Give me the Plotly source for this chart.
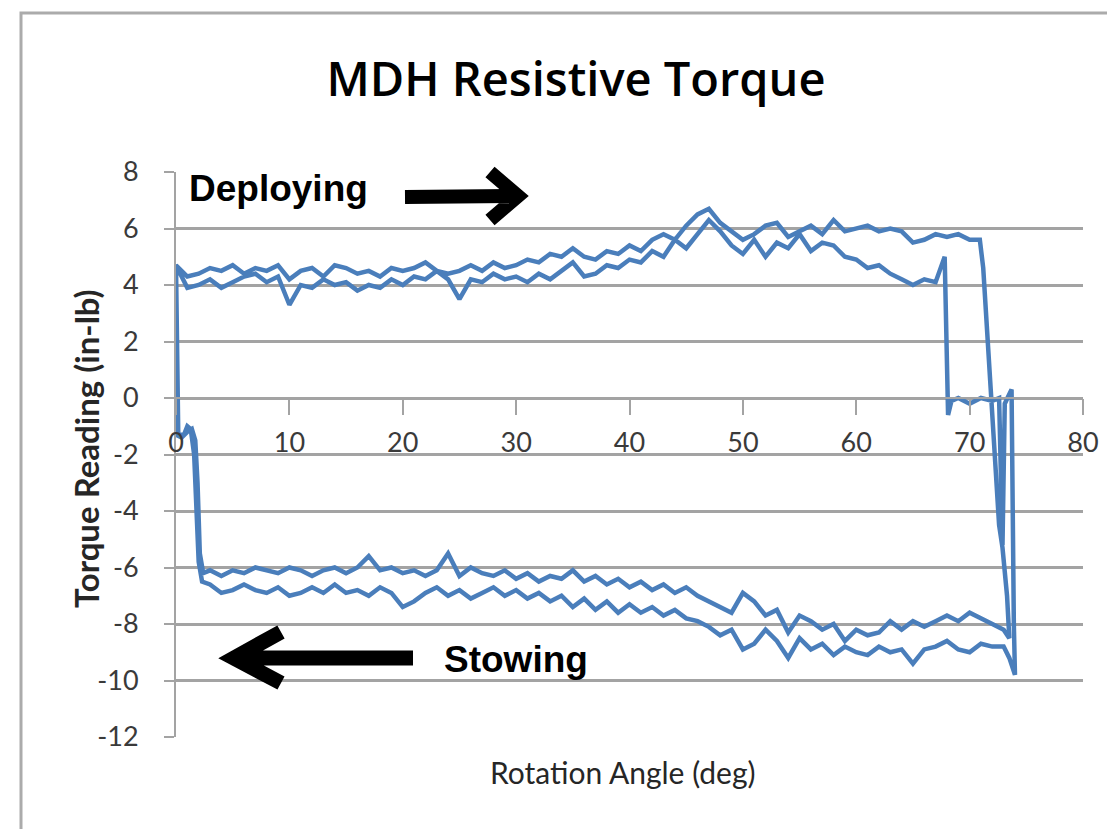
import plotly.graph_objects as go

# ---------------- data ----------------
# Cycle 1: deploying (ends at ~68 deg, then coasts at ~0 torque)
deploy1_angle = [0, 0, 1, 2, 3, 4, 5, 6, 7, 8, 9, 10, 11, 12, 13, 14, 15, 16, 17, 18, 19,
                 20, 21, 22, 23, 24, 25, 26, 27, 28, 29, 30, 31, 32, 33, 34, 35, 36, 37, 38, 39,
                 40, 41, 42, 43, 44, 45, 46, 47, 48, 49, 50, 51, 52, 53, 54, 55, 56, 57, 58, 59,
                 60, 61, 62, 63, 64, 65, 66, 67, 67.8, 68.1, 68.4, 69, 70, 71, 72, 72.6]
deploy1_torque = [0.0, 4.7, 3.9, 4.0, 4.2, 3.9, 4.1, 4.3, 4.4, 4.1, 4.3, 3.3, 4.0, 3.9, 4.2, 4.0, 4.1, 3.8, 4.0, 3.9, 4.2,
                  4.0, 4.3, 4.2, 4.5, 4.2, 3.5, 4.2, 4.1, 4.4, 4.2, 4.3, 4.1, 4.4, 4.2, 4.5, 4.8, 4.3, 4.4, 4.7, 4.6,
                  4.9, 4.8, 5.2, 5.0, 5.6, 5.3, 5.8, 6.3, 5.9, 5.4, 5.1, 5.6, 5.0, 5.5, 5.3, 5.8, 5.2, 5.5, 5.4, 5.0,
                  4.9, 4.6, 4.7, 4.4, 4.2, 4.0, 4.2, 4.1, 5.0, -0.6, -0.1, 0.0, -0.2, 0.0, -0.1, 0.0]

# Cycle 1: reversal at the end of travel
reverse1_angle = [72.9, 73.1, 73.7, 73.8, 73.9, 74.0]
reverse1_torque = [-5.2, -0.2, 0.3, -5.7, -8.0, -9.8]

# Cycle 1: stowing (lower curve on the right)
stow1_angle = [73.5, 73, 72, 71, 70, 69, 68, 67, 66, 65, 64, 63, 62, 61, 60, 59, 58, 57, 56, 55,
               54, 53, 52, 51, 50, 49, 48, 47, 46, 45, 44, 43, 42, 41, 40, 39, 38, 37, 36, 35,
               34, 33, 32, 31, 30, 29, 28, 27, 26, 25, 24, 23, 22, 21, 20, 19, 18, 17, 16, 15,
               14, 13, 12, 11, 10, 9, 8, 7, 6, 5, 4, 3, 2.3, 2.0, 1.8, 1.6, 1.3, 1.0, 0.7, 0.2]
stow1_torque = [-9.2, -8.8, -8.8, -8.7, -9.0, -8.9, -8.6, -8.8, -8.9, -9.4, -8.9, -9.0, -8.8, -9.1, -9.0, -8.8, -9.1, -8.7, -8.9, -8.5,
                -9.2, -8.6, -8.2, -8.7, -8.9, -8.2, -8.4, -8.1, -7.9, -7.8, -7.5, -7.7, -7.4, -7.6, -7.3, -7.6, -7.2, -7.5, -7.1, -7.4,
                -7.0, -7.2, -6.9, -7.1, -6.8, -7.0, -6.7, -6.9, -7.1, -6.8, -7.0, -6.7, -6.9, -7.2, -7.4, -6.9, -6.7, -7.0, -6.8, -6.9,
                -6.6, -6.9, -6.7, -6.9, -7.0, -6.7, -6.9, -6.8, -6.6, -6.8, -6.9, -6.6, -6.5, -5.8, -3.5, -2.0, -1.1, -1.0, -1.3, -1.3]

# Cycle 2: deploying (upper curve, runs to ~72 deg)
deploy2_angle = [0, 1, 2, 3, 4, 5, 6, 7, 8, 9, 10, 11, 12, 13, 14, 15, 16, 17, 18, 19,
                 20, 21, 22, 23, 24, 25, 26, 27, 28, 29, 30, 31, 32, 33, 34, 35, 36, 37, 38, 39,
                 40, 41, 42, 43, 44, 45, 46, 47, 48, 49, 50, 51, 52, 53, 54, 55, 56, 57, 58, 59,
                 60, 61, 62, 63, 64, 65, 66, 67, 68, 69, 70, 70.9, 71.2, 71.8, 72.2, 72.6, 72.9, 73.3, 73.5]
deploy2_torque = [4.7, 4.3, 4.4, 4.6, 4.5, 4.7, 4.4, 4.6, 4.5, 4.7, 4.2, 4.5, 4.6, 4.3, 4.7, 4.6, 4.4, 4.5, 4.3, 4.6,
                  4.5, 4.6, 4.8, 4.5, 4.4, 4.5, 4.7, 4.5, 4.8, 4.6, 4.7, 4.9, 4.8, 5.1, 5.0, 5.3, 5.0, 4.9, 5.2, 5.1,
                  5.4, 5.2, 5.6, 5.8, 5.6, 6.1, 6.5, 6.7, 6.2, 5.9, 5.6, 5.8, 6.1, 6.2, 5.7, 5.9, 6.1, 5.8, 6.3, 5.9,
                  6.0, 6.1, 5.9, 6.0, 5.9, 5.5, 5.6, 5.8, 5.7, 5.8, 5.6, 5.6, 4.6, 0.6, -1.5, -4.5, -5.3, -7.0, -8.5]

# Cycle 2: stowing (upper curve on the right)
stow2_angle = [73, 72, 71, 70, 69, 68, 67, 66, 65, 64, 63, 62, 61, 60, 59, 58, 57, 56, 55,
               54, 53, 52, 51, 50, 49, 48, 47, 46, 45, 44, 43, 42, 41, 40, 39, 38, 37, 36, 35,
               34, 33, 32, 31, 30, 29, 28, 27, 26, 25, 24, 23, 22, 21, 20, 19, 18, 17, 16, 15,
               14, 13, 12, 11, 10, 9, 8, 7, 6, 5, 4, 3, 2.4, 2.1, 1.9, 1.7, 1.4, 1.0, 0.5, 0.0]
stow2_torque = [-8.2, -8.0, -7.8, -7.6, -7.9, -7.7, -7.9, -8.1, -7.9, -8.2, -7.9, -8.3, -8.4, -8.2, -8.6, -8.0, -8.2, -7.9, -7.7,
                -8.3, -7.5, -7.7, -7.2, -6.9, -7.6, -7.4, -7.2, -7.0, -6.7, -6.9, -6.6, -6.8, -6.5, -6.7, -6.4, -6.6, -6.3, -6.5, -6.1,
                -6.4, -6.3, -6.5, -6.2, -6.4, -6.1, -6.3, -6.2, -6.0, -6.3, -5.5, -6.1, -6.3, -6.1, -6.2, -6.0, -6.1, -5.6, -6.0, -6.2,
                -6.0, -6.1, -6.3, -6.1, -6.0, -6.2, -6.1, -6.0, -6.2, -6.1, -6.3, -6.1, -6.2, -5.5, -3.0, -1.5, -1.1, -1.2, -1.4, -1.3]

x_ticks = [0, 10, 20, 30, 40, 50, 60, 70, 80]
y_ticks = [-12, -10, -8, -6, -4, -2, 0, 2, 4, 6, 8]

angle = deploy1_angle + reverse1_angle + stow1_angle + deploy2_angle + stow2_angle
torque = deploy1_torque + reverse1_torque + stow1_torque + deploy2_torque + stow2_torque

# ---------------- layout geometry ----------------
W, H = 1115, 829
L, R, T, B = 168, 40, 164, 100
PW, PH = W - L - R, H - T - B


def px(p):  # pixel x -> paper x
    return (p - L) / PW


def py(p):  # pixel y -> paper y
    return (H - B - p) / PH


GRID = "#a3a3a3"
BLUE = "#4A7EBB"
FONT = "Lato"
TICKCOL = "#3a3a3a"

fig = go.Figure()
fig.add_trace(go.Scatter(x=angle, y=torque, mode="lines",
                         line=dict(color=BLUE, width=4.5), showlegend=False,
                         hoverinfo="x+y", cliponaxis=False))

# x axis crosses at y = 0
y_min, y_max = y_ticks[0], y_ticks[-1]
x_cross = (0 - y_min) / (y_max - y_min)

fig.update_layout(
    width=W, height=H,
    margin=dict(l=L, r=R, t=T, b=B),
    paper_bgcolor="white", plot_bgcolor="white",
    font=dict(family=FONT, color=TICKCOL),
    title=dict(text="MDH Resistive Torque", x=568 / W, xanchor="center",
               y=1 - 72 / H, yanchor="middle", xref="container", yref="container",
               font=dict(family="Open Sans", size=47, color="#000000", weight=600)),
    xaxis=dict(range=[x_ticks[0], x_ticks[-1]], tickvals=x_ticks,
               ticktext=[str(v) for v in x_ticks], showgrid=False,
               zeroline=False, anchor="free", position=x_cross,
               showline=True, linecolor=GRID, linewidth=2,
               ticks="outside", ticklen=16, tickwidth=2, tickcolor=GRID,
               ticklabelstandoff=5,
               tickfont=dict(family=FONT, size=27, color=TICKCOL)),
    yaxis=dict(range=[y_min, y_max], tickvals=y_ticks,
               ticktext=[str(v) for v in y_ticks], showgrid=True,
               gridcolor=GRID, gridwidth=2.5, zeroline=False,
               showline=True, linecolor=GRID, linewidth=2,
               ticks="outside", ticklen=10, tickwidth=2, tickcolor=GRID,
               ticklabelstandoff=20,
               tickfont=dict(family=FONT, size=27, color=TICKCOL)),
)

# axis titles
fig.add_annotation(text="Rotation Angle (deg)", xref="paper", yref="paper",
                   x=px(615), y=py(764), showarrow=False, xanchor="center", yanchor="middle",
                   font=dict(family=FONT, size=30, color="#262626"))
fig.add_annotation(text="<b>Torque Reading (in-lb)</b>", xref="paper", yref="paper",
                   x=px(78), y=py(441), showarrow=False, textangle=-90,
                   xanchor="center", yanchor="middle",
                   font=dict(family=FONT, size=33, color="#262626"))

# direction labels
fig.add_annotation(text="<b>Deploying</b>", xref="paper", yref="paper",
                   x=px(179), y=py(180), showarrow=False, xanchor="left", yanchor="middle",
                   font=dict(family="Liberation Sans", size=37, color="#000000"))
fig.add_annotation(text="<b>Stowing</b>", xref="paper", yref="paper",
                   x=px(434), y=py(651), showarrow=False, xanchor="left", yanchor="middle",
                   font=dict(family="Liberation Sans", size=37, color="#000000"))


def arrow_path(tail, tip, c1, c2):
    return (f"M {px(tail[0])},{py(tail[1])} L {px(tip[0])},{py(tip[1])} "
            f"M {px(c1[0])},{py(c1[1])} L {px(tip[0])},{py(tip[1])} L {px(c2[0])},{py(c2[1])}")


fig.add_shape(type="path", xref="paper", yref="paper",
              path=arrow_path((397, 189), (510, 188), (482, 164), (482, 212)),
              line=dict(color="black", width=14))
fig.add_shape(type="path", xref="paper", yref="paper",
              path=arrow_path((405, 650), (226, 650), (273, 624), (273, 675)),
              line=dict(color="black", width=15))

# chart-area border
fig.add_shape(type="path", xref="paper", yref="paper",
              path=f"M {px(13)},{py(827)} L {px(13)},{py(5)} L {px(1110)},{py(5)}",
              line=dict(color="#ababab", width=3))
fig.add_shape(type="path", xref="paper", yref="paper",
              path=f"M {px(1110)},{py(5)} L {px(1110)},{py(827)} L {px(13)},{py(827)}",
              line=dict(color="#dcdcdc", width=2))

fig.write_html("out.html")
